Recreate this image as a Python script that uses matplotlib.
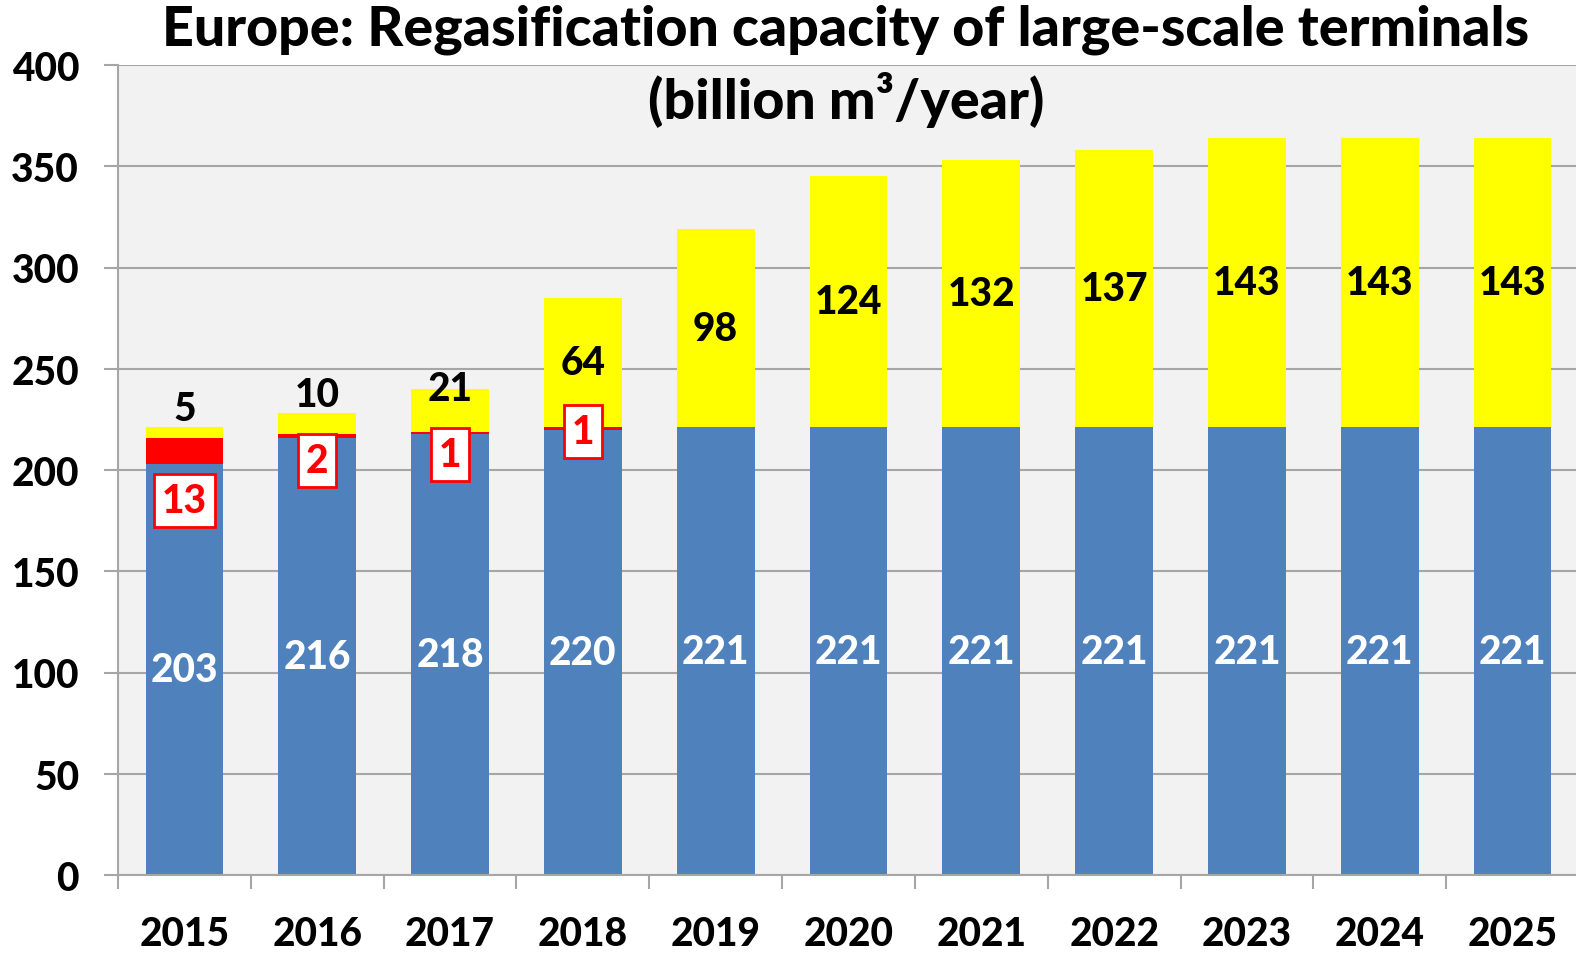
import numpy as np
import matplotlib.pyplot as plt

# datos (bcm/año)
years = ["2015", "2016", "2017", "2018", "2019", "2020", "2021", "2022", "2023", "2024", "2025"]
existing = [203, 216, 218, 220, 221, 221, 221, 221, 221, 221, 221]
construction = [13, 2, 1, 1, 0, 0, 0, 0, 0, 0, 0]
planned = [5, 10, 21, 64, 98, 124, 132, 137, 143, 143, 143]

# ajuste manual de las etiquetas rojas (puntos)
red_label_dy = [-36, -18, -16, -2]

plt.rcParams['font.family'] = ['Lato', 'DejaVu Sans']
wt = 900

blue = "#4f81bd"
red = "#ff0000"
yellow = "#ffff00"
gray = "#a6a6a6"

fig = plt.figure(figsize=(15.76, 9.54), dpi=100)
ax = fig.add_axes([118/1576, 1 - 876/954, 1461/1576, 810/954])
ax.set_facecolor("#f2f2f2")

x = np.arange(len(years))
w = 0.585
existing = np.array(existing)
construction = np.array(construction)
planned = np.array(planned)

ax.bar(x, existing, w, color=blue, zorder=2)
ax.bar(x, construction, w, bottom=existing, color=red, zorder=2)
ax.bar(x, planned, w, bottom=existing + construction, color=yellow, zorder=2)

fs = 28

# etiquetas azules
for i, v in enumerate(existing):
    ax.text(x[i], v / 2, f"{v}", ha="center", va="center", color="white",
            fontsize=fs, fontweight=wt, zorder=3)

# etiquetas rojas en recuadro
for i, v in enumerate(construction):
    if v == 0:
        continue
    yc = existing[i] + v / 2
    ax.annotate(f"{v}", (x[i], yc), xytext=(0, red_label_dy[i]), textcoords="offset points",
                ha="center", va="center", color=red, fontsize=fs, fontweight=wt, zorder=4,
                bbox=dict(boxstyle="square,pad=0.2", facecolor="white", edgecolor=red, linewidth=2))

# etiquetas amarillas
for i, v in enumerate(planned):
    top = existing[i] + construction[i] + v
    if v < 15:
        ax.text(x[i], top, f"{v}", ha="center", va="bottom", color="black",
                fontsize=fs, fontweight=wt, zorder=3)
    elif v < 30:
        ax.text(x[i], top, f"{v}", ha="center", va="center", color="black",
                fontsize=fs, fontweight=wt, zorder=3)
    else:
        ax.text(x[i], top - v / 2, f"{v}", ha="center", va="center", color="black",
                fontsize=fs, fontweight=wt, zorder=3)

ax.set_xlim(-0.5, len(years) - 0.5)
ax.set_ylim(0, 400)
ax.set_yticks(np.arange(0, 401, 50))
ax.set_xticks(x)
ax.set_xticklabels(years)
ax.set_xticks(np.arange(-0.5, len(years), 1), minor=True)
ax.tick_params(axis="x", which="major", length=0, pad=29, labelsize=fs)
ax.tick_params(axis="x", which="minor", length=10, width=1.5, color=gray, direction="out")
ax.tick_params(axis="y", length=10, width=1.5, color=gray, pad=18, labelsize=fs)
for lab in ax.get_xticklabels() + ax.get_yticklabels():
    lab.set_fontweight(wt)

ax.grid(True, axis="y", color=gray, linewidth=1.5, zorder=0)
ax.set_axisbelow(True)
for s in ["top", "right"]:
    ax.spines[s].set_visible(False)
for s in ["left", "bottom"]:
    ax.spines[s].set_color(gray)
    ax.spines[s].set_linewidth(1.5)

fig.text(846/1576, 1 - 30/954, "Europe: Regasification capacity of large-scale terminals",
         ha="center", va="center", fontsize=40, fontweight=wt)
fig.text(846/1576, 1 - 100/954, "(billion m³/year)",
         ha="center", va="center", fontsize=40, fontweight=wt)

fig.savefig("out.png", dpi=100)
